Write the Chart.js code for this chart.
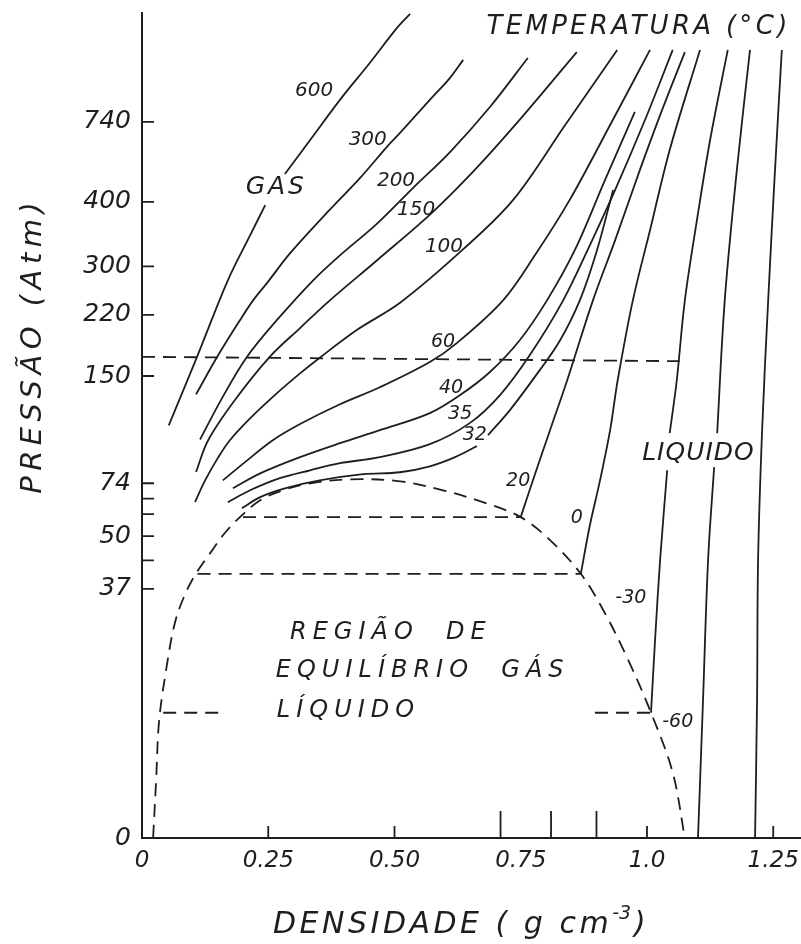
<!DOCTYPE html>
<html lang="pt">
<head>
<meta charset="utf-8">
<title>Isotermas do CO2</title>
<script src="https://cdn.jsdelivr.net/npm/chart.js@4.4.1/dist/chart.umd.min.js"></script>
<style>
  html, body { margin: 0; padding: 0; background: #fff; }
  #box { width: 801px; height: 944px; }
</style>
</head>
<body>
<div id="box"><canvas id="diagrama"></canvas></div>
<script>
const TINTA = '#1e1e1e';
const FONTE = '"DejaVu Sans", sans-serif';

// eixo da pressão: não linear no original, cada marca com sua altura (fração do eixo)
const pressaoMarcas = [0, 37, 50, 74, 150, 220, 300, 400, 740, 1200];
const pressaoFracao = [0, 0.302, 0.366, 0.430, 0.560, 0.634, 0.693, 0.771, 0.868, 1];
const pressaoRotulos = [0, 37, 50, 74, 150, 220, 300, 400, 740];
const pressaoMenores = [44, 60, 67];

const densidadeRotulos = [0, 0.25, 0.5, 0.75, 1.0, 1.25];
const densidadeTextos = ['0', '0.25', '0.50', '0.75', '1.0', '1.25'];
const densidadeCurtas = [0.25, 0.5, 1.0, 1.25];
const densidadeLongas = [0.71, 0.81, 0.90];

// isotermas: [densidade g/cm3, pressão atm]; null = interrupção do traço
const iso600 = [[0.053,115],[0.109,172],[0.170,277],[0.214,348],[0.244,395],null,[0.283,519],[0.333,663],[0.392,833],[0.451,989],[0.505,1137],[0.531,1196]];
const iso300 = [[0.107,137],[0.149,172],[0.194,214],[0.220,244],[0.249,274],[0.293,320],[0.372,388],[0.432,502],[0.485,634],[0.511,693],[0.570,833],[0.610,926],[0.636,1002]];
const iso200 = [[0.115,105],[0.158,134],[0.208,172],[0.267,214],[0.339,277],[0.392,317],[0.465,366],[0.537,460],[0.610,612],[0.689,803],[0.764,1010]];
const iso150 = [[0.107,82],[0.131,104.5],[0.184,133],[0.253,172],[0.313,205],[0.372,244],[0.465,309],[0.574,383],[0.659,536],[0.739,727],[0.861,1035]];
const iso100 = [[0.105,65.4],[0.125,76],[0.150,91.8],[0.174,104.5],[0.214,120],[0.263,136.5],[0.313,153],[0.352,171],[0.426,203],[0.511,240],[0.634,325],[0.735,408.5],[0.838,727],[0.941,1044]];
const iso60 = [[0.160,76],[0.204,89],[0.259,104.5],[0.313,116],[0.392,130],[0.471,142],[0.570,166],[0.624,188],[0.715,244],[0.778,317],[0.847,408.5],[0.927,727],[1.006,1044]];
const iso40 = [[0.180,71.7],[0.234,81],[0.313,92.5],[0.392,102.4],[0.471,111.6],[0.570,123.7],[0.630,136.5],[0.689,154.6],[0.748,191],[0.802,244],[0.857,325],[0.917,493.5],[0.976,782]];
const iso35 = [[0.170,65.4],[0.214,70.8],[0.273,77.6],[0.333,83.2],[0.392,88.2],[0.471,92.5],[0.570,101.7],[0.649,116.6],[0.709,136.5],[0.768,174],[0.834,244],[0.887,333],[0.937,451],[0.996,748],[1.051,1044]];
const iso32 = [[0.198,62.7],[0.234,67.7],[0.283,71.7],[0.352,76],[0.438,80.4],[0.511,81.8],[0.570,86],[0.620,92.5],[0.663,100.3],null,[0.685,108],[0.729,126],[0.788,157],[0.828,191],[0.867,244],[0.901,325],[0.933,451]];
const iso20 = [[0.750,58.6],[0.774,76],[0.808,111.6],[0.842,147],[0.893,244],[0.937,340.6],[0.986,536],[1.030,790.6],[1.075,1035]];
const iso0 = [[0.869,40.7],[0.887,55],[0.907,76],[0.927,111.6],[0.942,147],[0.972,244],[1.006,356],[1.045,621],[1.105,1044]];
const isoM30 = [[1.008,18.6],[1.016,29.4],[1.026,44.1],[1.040,83.2],null,[1.045,109.5],[1.059,147],[1.075,244],[1.099,372],[1.125,663],[1.160,1044]];
const isoLiq1 = [[1.101,0],[1.111,20.5],[1.121,44.1],[1.133,85.4],null,[1.139,109.5],[1.154,244],[1.178,536],[1.204,1044]];
const isoLiq2 = [[1.214,0],[1.218,20.5],[1.220,44.1],[1.228,111.6],[1.240,244],[1.253,515],[1.267,1044]];

// curva de coexistência e linhas de amarração (tracejadas)
const cupula = [[0.022,0],[0.028,8.6],[0.034,17.5],[0.050,26],[0.065,31.9],[0.083,35.8],[0.105,40.4],[0.135,45.8],[0.164,51.4],[0.194,58.6],[0.234,66.3],[0.279,70.8],[0.333,74],[0.412,76.8],[0.511,75.4],[0.596,70.8],[0.675,65.4],[0.750,58.6],[0.808,49],[0.869,40.7],[0.913,33.9],[0.960,26.9],[1.008,18.6],[1.051,9.7],[1.075,0]];
const amarra20 = [[0.200,58.6],[0.750,58.6]];
const amarra0 = [[0.110,40.7],[0.869,40.7]];
const amarraM60a = [[0.042,18.6],[0.164,18.6]];
const amarraM60b = [[0.897,18.6],[1.008,18.6]];
const linhaSuperior = [[0,172],[1.065,167]];

// rótulos das isotermas
const rotulosTexto = ['600','300','200','150','100','60','40','35','32','20','0','-30','-60'];
const rotulosDens = [0.341,0.447,0.503,0.543,0.598,0.596,0.612,0.630,0.659,0.745,0.861,0.968,1.061];
const rotulosPres = [871,663,489,387.5,331,189,141.5,123,108,75.4,58.2,35.7,17.2];

function pressaoParaFracao(p) {
  const n = pressaoMarcas.length;
  for (let i = 1; i < n; i++) {
    if (p <= pressaoMarcas[i] || i === n - 1) {
      const p0 = pressaoMarcas[i-1], p1 = pressaoMarcas[i];
      return pressaoFracao[i-1] + (p - p0) / (p1 - p0) * (pressaoFracao[i] - pressaoFracao[i-1]);
    }
  }
}
function fracaoParaPressao(f) {
  const n = pressaoFracao.length;
  for (let i = 1; i < n; i++) {
    if (f <= pressaoFracao[i] || i === n - 1) {
      const f0 = pressaoFracao[i-1], f1 = pressaoFracao[i];
      return pressaoMarcas[i-1] + (f - f0) / (f1 - f0) * (pressaoMarcas[i] - pressaoMarcas[i-1]);
    }
  }
}

class EscalaPressao extends Chart.LinearScale {
  static id = 'pressao';
  static defaults = {};
  getPixelForValue(v) {
    if (v === null || v === undefined || isNaN(v)) return NaN;
    return this.getPixelForDecimal(pressaoParaFracao(v));
  }
  getValueForPixel(px) {
    return fracaoParaPressao(this.getDecimalForPixel(px));
  }
}
Chart.register(EscalaPressao);

function pontos(arr) {
  return arr.map((p, i) => p ? { x: p[0], y: p[1] } : { x: arr[i-1][0], y: null });
}
function continua(arr) {
  return { data: pontos(arr), borderColor: TINTA, borderWidth: 1.8, pointRadius: 0,
           fill: false, spanGaps: false, tension: 0.35 };
}
function tracejada(arr, suave) {
  const d = continua(arr);
  d.borderDash = [13, 8];
  d.tension = suave ? 0.35 : 0;
  return d;
}

const datasets = [
  continua(iso600), continua(iso300), continua(iso200), continua(iso150), continua(iso100),
  continua(iso60), continua(iso40), continua(iso35), continua(iso32), continua(iso20),
  continua(iso0), continua(isoM30), continua(isoLiq1), continua(isoLiq2),
  tracejada(cupula, true), tracejada(amarra20), tracejada(amarra0),
  tracejada(amarraM60a), tracejada(amarraM60b), tracejada(linhaSuperior)
];

function escreve(ctx, s, x, y, tam, alinh, esp) {
  ctx.font = 'italic ' + tam + 'px ' + FONTE;
  ctx.letterSpacing = (esp || 0) + 'px';
  ctx.textAlign = alinh || 'center';
  ctx.textBaseline = 'middle';
  ctx.fillText(s, x + (ctx.textAlign === 'center' ? (esp || 0) / 2 : 0), y);
  return ctx.measureText(s).width;
}

const marcasTinta = {
  id: 'marcasTinta',
  afterDatasetsDraw(chart) {
    const { ctx, chartArea: a, scales: { x, y } } = chart;
    ctx.save();
    ctx.strokeStyle = TINTA;
    ctx.fillStyle = TINTA;
    ctx.lineWidth = 1.8;
    ctx.setLineDash([]);

    // marcas para dentro do gráfico
    ctx.beginPath();
    pressaoRotulos.slice(1).concat(pressaoMenores).forEach(v => {
      const py = y.getPixelForValue(v);
      ctx.moveTo(a.left, py); ctx.lineTo(a.left + 12, py);
    });
    densidadeCurtas.forEach(v => {
      const px = x.getPixelForValue(v);
      ctx.moveTo(px, a.bottom); ctx.lineTo(px, a.bottom - 12);
    });
    densidadeLongas.forEach(v => {
      const px = x.getPixelForValue(v);
      ctx.moveTo(px, a.bottom); ctx.lineTo(px, a.bottom - 27);
    });
    ctx.stroke();

    // rótulos das isotermas
    rotulosTexto.forEach((t, i) => {
      const tam = i < 5 ? 20 : 19;
      escreve(ctx, t, x.getPixelForValue(rotulosDens[i]), y.getPixelForValue(rotulosPres[i]), tam, 'center', 0);
    });

    escreve(ctx, 'GAS', x.getPixelForValue(0.263), y.getPixelForValue(460), 25, 'center', 3);
    escreve(ctx, 'LIQUIDO', x.getPixelForValue(1.101), y.getPixelForValue(95.3), 25, 'center', 1);
    escreve(ctx, 'TEMPERATURA (°C)', x.getPixelForValue(0.980), y.getPixelForValue(1141), 26, 'center', 3.3);

    escreve(ctx, 'REGIÃO  DE', x.getPixelForValue(0.293), y.getPixelForValue(30.5), 24, 'left', 6);
    escreve(ctx, 'EQUILÍBRIO  GÁS', x.getPixelForValue(0.265), y.getPixelForValue(24.8), 24, 'left', 6);
    escreve(ctx, 'LÍQUIDO', x.getPixelForValue(0.267), y.getPixelForValue(18.9), 24, 'left', 6);

    // títulos dos eixos
    let px = a.left + 131;
    const py = chart.height - 19;
    px += escreve(ctx, 'DENSIDADE ( g cm', px, py, 30, 'left', 3.5);
    px += escreve(ctx, '-3', px, py - 11, 19, 'left', 0) + 3;
    escreve(ctx, ')', px, py, 30, 'left', 0);

    ctx.translate(33, a.top + 335);
    ctx.rotate(-Math.PI / 2);
    escreve(ctx, 'PRESSÃO (Atm)', 0, 0, 29, 'center', 5.5);
    ctx.restore();
  }
};

new Chart(document.getElementById('diagrama'), {
  type: 'line',
  data: { datasets: datasets },
  options: {
    responsive: true,
    maintainAspectRatio: false,
    animation: false,
    events: [],
    layout: { padding: { top: 13, left: 0, right: 0, bottom: 0 } },
    plugins: { legend: { display: false }, tooltip: { enabled: false } },
    scales: {
      x: {
        type: 'linear',
        min: 0,
        max: 1.305,
        grid: { display: false, drawTicks: false },
        border: { display: true, color: TINTA, width: 2 },
        ticks: {
          padding: 9,
          color: TINTA,
          autoSkip: false,
          maxRotation: 0,
          font: { family: FONTE, size: 23, style: 'italic' },
          callback: v => densidadeTextos[densidadeRotulos.indexOf(v)] ?? ''
        },
        afterBuildTicks: s => { s.ticks = densidadeRotulos.map(v => ({ value: v })); },
        afterFit: s => { s.height = 106; s.paddingLeft = 0; s.paddingRight = 0; }
      },
      y: {
        type: 'pressao',
        min: 0,
        max: 1200,
        grid: { display: false, drawTicks: false },
        border: { display: true, color: TINTA, width: 2 },
        ticks: {
          padding: 11,
          color: TINTA,
          autoSkip: false,
          font: { family: FONTE, size: 25, style: 'italic' },
          callback: v => String(v)
        },
        afterBuildTicks: s => { s.ticks = pressaoRotulos.map(v => ({ value: v })); },
        afterFit: s => { s.width = 142; s.paddingTop = 0; s.paddingBottom = 0; }
      }
    }
  },
  plugins: [marcasTinta]
});
</script>
</body>
</html>
